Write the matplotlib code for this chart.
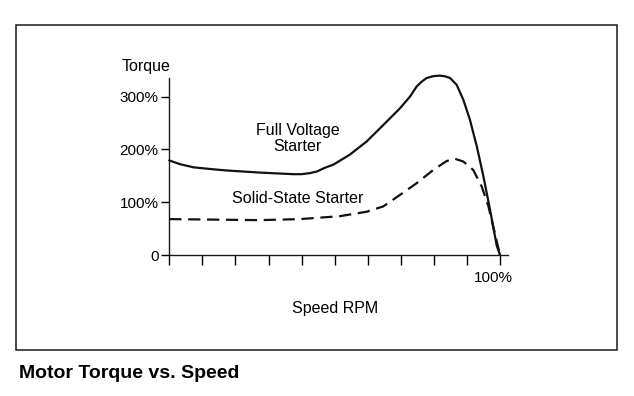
import matplotlib
matplotlib.use("Agg")
import matplotlib.pyplot as plt
import matplotlib.transforms as mtransforms
from matplotlib.patches import Rectangle

# speed in % of synchronous, torque in % of full load
full_speed = [0, 3.2, 7.3, 12, 17.4, 27.4, 37.5, 40, 42.5, 44.6, 47, 49.6,
              54.6, 59.7, 64.7, 69.8, 72.8, 74.8, 76.3, 77.8, 79.8, 81.9,
              83.5, 84.9, 86.9, 88.9, 90.9, 93.0, 95.0, 97.0, 99.0, 100]
full_torque = [179, 172, 166, 163, 160, 156, 153, 153, 155, 158, 165, 171,
               190, 215, 246, 278, 300, 319, 328, 335, 338.5, 339.5,
               338, 335, 322, 294, 256, 205, 148, 85, 18, 0]

solid_speed = [0, 27.4, 39.5, 49.6, 51.6, 59.7, 64.7, 69.8, 74.8, 79.8, 83.9,
               86.4, 88.9, 91.9, 94.5, 96.5, 100]
solid_torque = [68, 66, 68, 72.6, 73.5, 82, 92, 114, 136, 161, 178,
                182, 177, 161, 129, 92, 0]

x_ticks = [0, 10, 20, 30, 40, 50, 60, 70, 80, 90, 100]
x_ticklabels = ["", "", "", "", "", "", "", "", "", "", "100%"]
y_ticks = [0, 100, 200, 300]
y_ticklabels = ["0", "100%", "200%", "300%"]

plt.rcParams["font.family"] = ["Liberation Sans", "DejaVu Sans"]

fig = plt.figure(figsize=(6.34, 3.96), dpi=100)
fig.patch.set_facecolor("white")

# frame around the figure
fig.patches.append(Rectangle((0.0252, 0.116), 0.948, 0.821, transform=fig.transFigure,
                             fill=False, edgecolor="#1a1a1a", linewidth=1.1))

ax = fig.add_axes([0.267, 0.356, 0.5342, 0.447])
ax.plot(full_speed, full_torque, color="#111111", linewidth=1.6, clip_on=False,
        solid_capstyle="round", solid_joinstyle="round")
ax.plot(solid_speed, solid_torque, color="#111111", linewidth=1.6, clip_on=False,
        linestyle=(0, (5.5, 3)))

ax.set_xlim(0, 102.4)
ax.set_ylim(0, 335)
for side in ["top", "right"]:
    ax.spines[side].set_visible(False)
for side in ["left", "bottom"]:
    ax.spines[side].set_linewidth(1.0)
    ax.spines[side].set_color("#1a1a1a")

ax.set_xticks(x_ticks)
ax.set_xticklabels(x_ticklabels)
ax.set_yticks(y_ticks)
ax.set_yticklabels(y_ticklabels)
ax.tick_params(axis="x", direction="out", length=7.2, width=1.0, pad=4, labelsize=11)
ax.tick_params(axis="y", direction="out", length=5.8, width=1.0, pad=2, labelsize=11)
shift = mtransforms.ScaledTranslation(-7 / 100, 0, fig.dpi_scale_trans)
for lbl in ax.get_xticklabels():
    lbl.set_transform(lbl.get_transform() + shift)

ax.text(38.8, 221, "Full Voltage\nStarter", ha="center", va="center", fontsize=11.5,
        linespacing=1.05)
ax.text(38.9, 107, "Solid-State Starter", ha="center", va="center", fontsize=11.5)

fig.text(0.192, 0.831, "Torque", ha="left", va="center", fontsize=11.5)
fig.text(0.529, 0.22, "Speed RPM", ha="center", va="center", fontsize=11.5)
fig.text(0.030, 0.058, "Motor Torque vs. Speed", ha="left", va="center",
         fontsize=14, fontweight="bold")

fig.savefig("out.png", dpi=100)
